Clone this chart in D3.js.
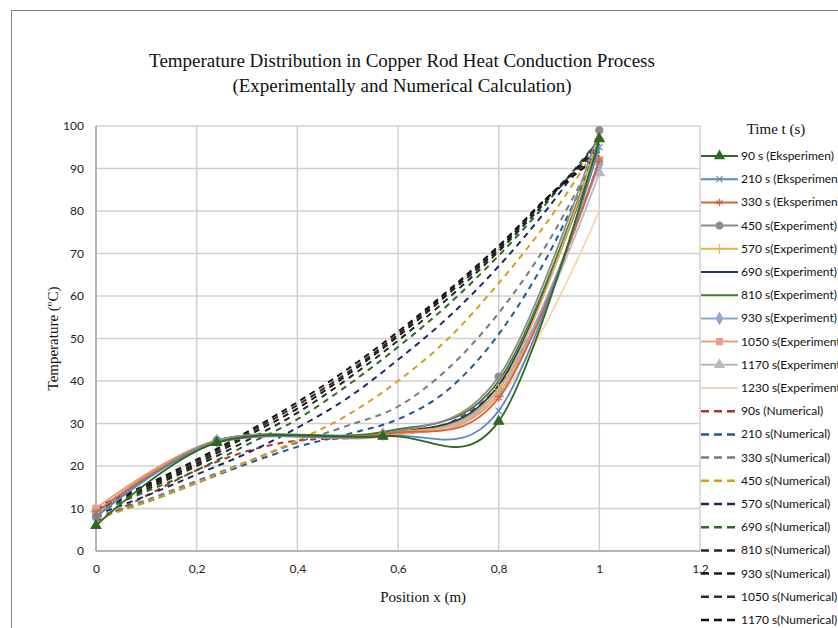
<!DOCTYPE html>
<html>
<head>
<meta charset="utf-8">
<script src="https://cdn.jsdelivr.net/npm/d3@7"></script>
<style>
  body { margin: 0; background: #fff; }
  svg { display: block; }
</style>
</head>
<body>
<svg width="838" height="628"></svg>
<script>
// experiment positions (m) and temperatures (C)
const expX = [0, 0.24, 0.57, 0.8, 1];
const exp90 = [6, 25.5, 27, 30.5, 97];
const exp210 = [8, 25.5, 27, 33, 95];
const exp330 = [9, 25.5, 27.5, 36, 92];
const exp450 = [8, 26, 27.5, 41, 99];
const exp570 = [9, 26, 27.5, 38, 97];
const exp690 = [9, 26, 27.5, 39, 96];
const exp810 = [8, 26, 28, 40, 97];
const exp930 = [9, 26, 27.5, 38, 91];
const exp1050 = [10, 26, 27, 37, 92];
const exp1170 = [10, 26, 27.5, 37, 89];
const exp1230 = [10, 26, 27.5, 36, 80];

// numerical solution
const numX = [0, 0.1, 0.2, 0.3, 0.4, 0.5, 0.6, 0.7, 0.8, 0.9, 1];
const num90 = [7, 13, 19, 23.5, 26, 26.5, 27.5, 30, 39, 60, 92];
const num210 = [8, 11.5, 16, 20.5, 24.5, 27.5, 31, 38, 51, 70, 95];
const num330 = [8, 12, 16.5, 21, 25.5, 29.5, 34, 43, 56, 73, 95];
const num450 = [7.5, 11.5, 16, 21, 26, 32, 40, 50, 63, 78, 96];
const num570 = [8.5, 13, 18, 23, 29, 36, 45, 55, 67, 81, 97];
const num690 = [9, 14, 19, 25, 31, 39, 48, 58, 69.5, 82.5, 97];
const num810 = [9.5, 14.5, 20, 26, 32.5, 40.5, 49.5, 59.5, 70.5, 83, 96];
const num930 = [9.8, 15, 20.5, 27, 33.5, 41.5, 50.5, 60.5, 71, 83.5, 95];
const num1050 = [10, 15.3, 21, 27.5, 34.3, 42, 51, 61, 71.5, 83.5, 94];
const num1170 = [10.2, 15.6, 21.5, 28, 35, 42.8, 51.6, 61.3, 71.8, 83.5, 93];

const xTicks = [0, 0.2, 0.4, 0.6, 0.8, 1, 1.2];
const yTicks = [0, 10, 20, 30, 40, 50, 60, 70, 80, 90, 100];

// symbolCross2 = the "x" shape
const symbolX = {
  draw(ctx, size) {
    const r = Math.sqrt(size) / 2;
    ctx.moveTo(-r, -r); ctx.lineTo(r, r);
    ctx.moveTo(-r, r); ctx.lineTo(r, -r);
  }
};

const expSeries = [
  { name: "90 s (Eksperimen)", y: exp90, color: "#2d6a1f", marker: d3.symbolTriangle },
  { name: "210 s (Eksperimen)", y: exp210, color: "#5a86c4", marker: symbolX },
  { name: "330 s (Eksperimen)", y: exp330, color: "#d2633a", marker: d3.symbolAsterisk },
  { name: "450 s(Experiment)", y: exp450, color: "#8c8c8c", marker: d3.symbolCircle },
  { name: "570 s(Experiment)", y: exp570, color: "#e9b14c", marker: d3.symbolPlus },
  { name: "690 s(Experiment)", y: exp690, color: "#1f3864", marker: null },
  { name: "810 s(Experiment)", y: exp810, color: "#3f7b2b", marker: null },
  { name: "930 s(Experiment)", y: exp930, color: "#8ea7d6", marker: d3.symbolDiamond },
  { name: "1050 s(Experiment)", y: exp1050, color: "#e8a08b", marker: d3.symbolSquare },
  { name: "1170 s(Experiment)", y: exp1170, color: "#b9b9b9", marker: d3.symbolTriangle },
  { name: "1230 s(Experiment)", y: exp1230, color: "#f6d5a6", marker: null }
];
const numSeries = [
  { name: "90s (Numerical)", y: num90, color: "#a8382a" },
  { name: "210 s(Numerical)", y: num210, color: "#245a94" },
  { name: "330 s(Numerical)", y: num330, color: "#7a7a7a" },
  { name: "450 s(Numerical)", y: num450, color: "#d4a017" },
  { name: "570 s(Numerical)", y: num570, color: "#1d2a5e" },
  { name: "690 s(Numerical)", y: num690, color: "#2f6a25" },
  { name: "810 s(Numerical)", y: num810, color: "#262626" },
  { name: "930 s(Numerical)", y: num930, color: "#1a1a1a" },
  { name: "1050 s(Numerical)", y: num1050, color: "#3a2b20" },
  { name: "1170 s(Numerical)", y: num1170, color: "#111111" }
];

const svg = d3.select("svg");
const margin = { left: 96, top: 126, right: 138, bottom: 77 };
const width = 838, height = 628;

const x = d3.scaleLinear().domain([0, 1.2]).range([margin.left, width - margin.right]);
const y = d3.scaleLinear().domain([0, 100]).range([height - margin.bottom, margin.top]);

// outer frame
svg.append("rect")
  .attr("x", 11.5).attr("y", 10.5)
  .attr("width", 840).attr("height", 640)
  .attr("fill", "none").attr("stroke", "#8a8a8a").attr("stroke-width", 1);

// title
const title = svg.append("text")
  .attr("text-anchor", "middle")
  .attr("font-family", "'Liberation Serif', serif")
  .attr("font-size", 19)
  .attr("fill", "#111");
title.append("tspan").attr("x", 402).attr("y", 67).text("Temperature Distribution in Copper Rod Heat Conduction Process");
title.append("tspan").attr("x", 402).attr("y", 92).text("(Experimentally and Numerical Calculation)");

// grid
svg.append("g").selectAll("line").data(yTicks).enter().append("line")
  .attr("x1", x(0)).attr("x2", x(1.2))
  .attr("y1", d => y(d)).attr("y2", d => y(d))
  .attr("stroke", "#d0d0d0").attr("stroke-width", 1.5);
svg.append("g").selectAll("line").data(xTicks).enter().append("line")
  .attr("x1", d => x(d)).attr("x2", d => x(d))
  .attr("y1", y(0)).attr("y2", y(100))
  .attr("stroke", "#d0d0d0").attr("stroke-width", 1.5);
svg.append("line")
  .attr("x1", x(0)).attr("x2", x(0)).attr("y1", y(0)).attr("y2", y(100))
  .attr("stroke", "#a6a6a6").attr("stroke-width", 1.5);
svg.append("line")
  .attr("x1", x(0)).attr("x2", x(1.2)).attr("y1", y(0)).attr("y2", y(0))
  .attr("stroke", "#a6a6a6").attr("stroke-width", 1.5);

// axes labels (no tick lines)
const fmt = d => String(d).replace(".", ",");
const xAxis = svg.append("g")
  .attr("transform", `translate(0,${y(0) + 5})`)
  .call(d3.axisBottom(x).tickValues(xTicks).tickFormat(fmt).tickSize(0).tickPadding(8));
const yAxis = svg.append("g")
  .attr("transform", `translate(${x(0) - 4},0)`)
  .call(d3.axisLeft(y).tickValues(yTicks).tickSize(0).tickPadding(8));
[xAxis, yAxis].forEach(g => {
  g.select(".domain").remove();
  g.selectAll("text").attr("font-family", "Lato, 'Open Sans', sans-serif")
    .attr("font-size", 12).attr("fill", "#222");
});

svg.append("text")
  .attr("x", x(0.65)).attr("y", 602)
  .attr("text-anchor", "middle")
  .attr("font-family", "'Liberation Serif', serif")
  .attr("font-size", 15).attr("fill", "#111")
  .text("Position x (m)");
svg.append("text")
  .attr("transform", `translate(58,${y(50)}) rotate(-90)`)
  .attr("text-anchor", "middle")
  .attr("font-family", "'Liberation Serif', serif")
  .attr("font-size", 15).attr("fill", "#111")
  .text("Temperature (ºC)");

// lines
const line = d3.line()
  .x(d => x(d[0])).y(d => y(d[1]))
  .curve(d3.curveCardinal.tension(0));

const plot = svg.append("g");
numSeries.forEach(s => {
  plot.append("path")
    .datum(numX.map((v, i) => [v, s.y[i]]))
    .attr("d", line)
    .attr("fill", "none")
    .attr("stroke", s.color)
    .attr("stroke-width", 2)
    .attr("stroke-dasharray", "6,5");
});
expSeries.slice().reverse().forEach(s => {
  const pts = expX.map((v, i) => [v, s.y[i]]);
  plot.append("path")
    .datum(pts)
    .attr("d", line)
    .attr("fill", "none")
    .attr("stroke", s.color)
    .attr("stroke-width", 1.8);
  if (s.marker) {
    plot.selectAll(null).data(pts).enter().append("path")
      .attr("transform", d => `translate(${x(d[0])},${y(d[1])})`)
      .attr("d", d3.symbol().type(s.marker).size(40))
      .attr("fill", s.color)
      .attr("stroke", s.color)
      .attr("stroke-width", 1.2);
  }
});

// legend
svg.append("text")
  .attr("x", 776).attr("y", 134)
  .attr("text-anchor", "middle")
  .attr("font-family", "'Liberation Serif', serif")
  .attr("font-size", 15).attr("fill", "#111")
  .text("Time t (s)");

const legendItems = expSeries.map(s => ({ ...s, dashed: false }))
  .concat(numSeries.map(s => ({ ...s, marker: null, dashed: true })));
const rowY = d3.scaleLinear().domain([0, legendItems.length - 1]).range([156, 620]);
const leg = svg.append("g").selectAll("g").data(legendItems).enter().append("g")
  .attr("transform", (d, i) => `translate(700,${rowY(i)})`);
leg.append("line")
  .attr("x1", 1).attr("x2", 38).attr("y1", 0).attr("y2", 0)
  .attr("stroke", d => d.color)
  .attr("stroke-width", d => d.dashed ? 2.5 : 2)
  .attr("stroke-dasharray", d => d.dashed ? "8,5" : null);
leg.filter(d => d.marker).append("path")
  .attr("transform", "translate(19.5,0)")
  .attr("d", d => d3.symbol().type(d.marker).size(36)())
  .attr("fill", d => d.color)
  .attr("stroke", d => d.color)
  .attr("stroke-width", 1.2);
leg.append("text")
  .attr("x", 41).attr("y", 4)
  .attr("font-family", "Lato, 'Open Sans', sans-serif")
  .attr("font-size", 12).attr("fill", "#111")
  .text(d => d.name);
</script>
</body>
</html>
